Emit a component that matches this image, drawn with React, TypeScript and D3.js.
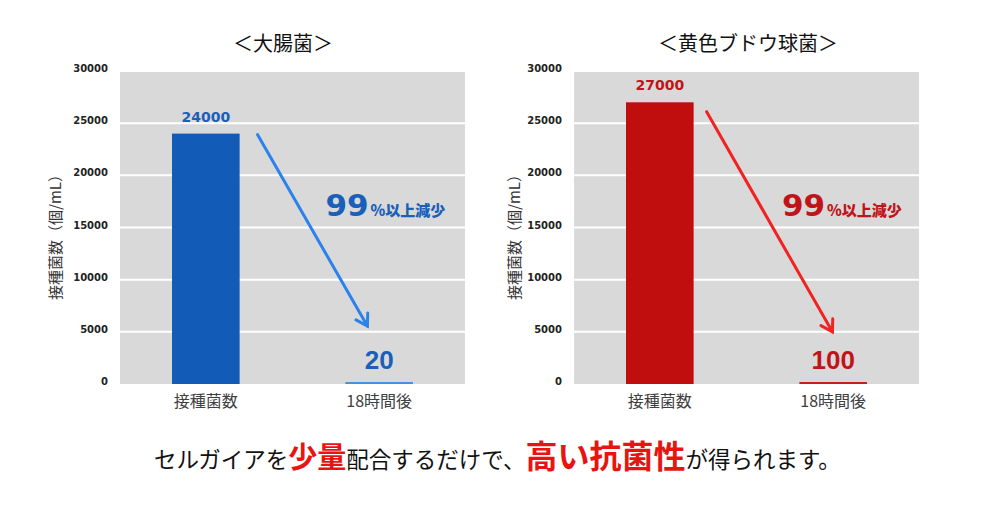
import React from "react";
import * as d3 from "d3";

const categories = ["接種菌数", "18時間後"];
const ecoliValues = [24000, 20];
const staphValues = [27000, 100];
const yTicks = [0, 5000, 10000, 15000, 20000, 25000, 30000];
const chartTitles = ["＜大腸菌＞", "＜黄色ブドウ球菌＞"];
const yAxisTitle = "接種菌数（個/mL）";
const reductionBig = "99";
const reductionSmall = "%以上減少";
// arrow annotation values (start / end on y axis)
const arrowStartValues = [23900, 26100];
const arrowEndValues = [5550, 5000];
const reductionLabelValue = 16100;

const captionParts = [
  { text: "セルガイアを", kind: "n" },
  { text: "少量", kind: "m" },
  { text: "配合するだけで、", kind: "n" },
  { text: "高い抗菌性", kind: "l" },
  { text: "が得られます。", kind: "n" },
];

const JP = "'Noto Sans CJK JP', sans-serif";
const NUM = "'DejaVu Sans', Verdana, sans-serif";
const NUM2 = "'Liberation Sans', Arial, sans-serif";

const PLOT_W = 345;
const PLOT_TOP = 71;
const PLOT_BOTTOM = 384;

type ChartProps = {
  left: number;
  values: number[];
  title: string;
  titleX: number;
  yTitleX: number;
  barColors: string[];
  labelColor: string;
  arrowColor: string;
  arrowStart: number;
  arrowEnd: number;
  arrowStartDx: number;
  arrowEndDx: number;
  labelDx: number;
};

function Chart(p: ChartProps) {
  const x = d3
    .scaleBand<string>()
    .domain(categories)
    .range([p.left, p.left + PLOT_W])
    .paddingInner(0.61)
    .paddingOuter(0.3);
  const y = d3.scaleLinear().domain([0, 30000]).range([PLOT_BOTTOM, PLOT_TOP]);
  const bw = x.bandwidth();

  const x0 = x(categories[0])! + bw + p.arrowStartDx;
  const y0 = y(p.arrowStart);
  const x1 = x(categories[1])! + p.arrowEndDx;
  const y1 = y(p.arrowEnd);
  const ang = Math.atan2(y1 - y0, x1 - x0);
  const hl = 13;
  const spread = 0.55;
  const w1 = [x1 - hl * Math.cos(ang - spread), y1 - hl * Math.sin(ang - spread)];
  const w2 = [x1 - hl * Math.cos(ang + spread), y1 - hl * Math.sin(ang + spread)];

  return (
    <g>
      <text
        x={p.titleX}
        y={42}
        textAnchor="middle"
        dominantBaseline="central"
        fontFamily={JP}
        fontSize={20}
        fill="#111"
      >
        {p.title}
      </text>
      <rect x={p.left} y={PLOT_TOP} width={PLOT_W} height={PLOT_BOTTOM - PLOT_TOP} fill="#d9d9d9" />
      {yTicks.map((t) => (
        <g key={t}>
          {t > 0 && (
            <line
              x1={p.left}
              x2={p.left + PLOT_W}
              y1={y(t)}
              y2={y(t)}
              stroke="#ffffff"
              strokeWidth={2}
            />
          )}
          <text
            x={p.left - 12}
            y={y(t) - 2.5}
            textAnchor="end"
            dominantBaseline="central"
            fontFamily={NUM}
            fontWeight="bold"
            fontSize={10}
            fill="#222"
          >
            {t}
          </text>
        </g>
      ))}
      <text
        transform={`translate(${p.yTitleX},${(PLOT_TOP + PLOT_BOTTOM) / 2 + 6}) rotate(-90)`}
        textAnchor="middle"
        dominantBaseline="central"
        fontFamily={JP}
        fontSize={15}
        fill="#333"
      >
        {yAxisTitle}
      </text>
      {categories.map((c, i) => {
        const v = p.values[i];
        const top = Math.min(y(v), PLOT_BOTTOM - 2);
        const cx = x(c)! + bw / 2;
        const big = i === 1;
        return (
          <g key={c}>
            <rect x={x(c)} y={top} width={bw} height={PLOT_BOTTOM - top} fill={p.barColors[i]} />
            <text
              x={cx}
              y={top - (big ? 22.5 : 17)}
              textAnchor="middle"
              dominantBaseline="central"
              fontFamily={big ? NUM2 : NUM}
              fontWeight="bold"
              fontSize={big ? 26 : 14}
              fill={p.labelColor}
            >
              {v}
            </text>
            <text
              x={cx}
              y={400}
              textAnchor="middle"
              dominantBaseline="central"
              fontFamily={JP}
              fontSize={16}
              fill="#404040"
            >
              {c}
            </text>
          </g>
        );
      })}
      <line x1={x0} y1={y0} x2={x1} y2={y1} stroke={p.arrowColor} strokeWidth={3} strokeLinecap="round" />
      <polyline
        points={`${w1[0]},${w1[1]} ${x1},${y1} ${w2[0]},${w2[1]}`}
        fill="none"
        stroke={p.arrowColor}
        strokeWidth={3}
        strokeLinecap="round"
        strokeLinejoin="miter"
      />
      <text
        x={x(categories[1])! + p.labelDx}
        y={y(reductionLabelValue)}
        fontWeight="bold"
        fill={p.labelColor}
      >
        <tspan fontFamily={NUM} fontSize={31}>
          {reductionBig}
        </tspan>
        <tspan fontFamily={JP} fontSize={15} fontWeight={900} dx={2}>
          {reductionSmall}
        </tspan>
      </text>
    </g>
  );
}

export default function App() {
  return (
    <svg
      width={1000}
      height={509}
      viewBox="0 0 1000 509"
      style={{ position: "absolute", left: 0, top: 0, background: "#fff" }}
    >
      <rect width={1000} height={509} fill="#fff" />
      <Chart
        left={120}
        values={ecoliValues}
        title={chartTitles[0]}
        titleX={283}
        yTitleX={54}
        barColors={["#125cb8", "#4a8fe0"]}
        labelColor="#1a5fba"
        arrowColor="#2b82ea"
        arrowStart={arrowStartValues[0]}
        arrowEnd={arrowEndValues[0]}
        arrowStartDx={18}
        arrowEndDx={22}
        labelDx={-20}
      />
      <Chart
        left={574}
        values={staphValues}
        title={chartTitles[1]}
        titleX={748}
        yTitleX={513}
        barColors={["#c00d0d", "#c81d1d"]}
        labelColor="#c0141a"
        arrowColor="#f02222"
        arrowStart={arrowStartValues[1]}
        arrowEnd={arrowEndValues[1]}
        arrowStartDx={13}
        arrowEndDx={33}
        labelDx={-17.5}
      />
      <text x={154} y={468} fontFamily={JP}>
        {captionParts.map((c, i) => (
          <tspan
            key={i}
            fontSize={c.kind === "n" ? 22.5 : c.kind === "m" ? 29 : 32}
            fontWeight={c.kind === "n" ? "normal" : "bold"}
            fill={c.kind === "n" ? "#111" : "#e8140f"}
          >
            {c.text}
          </tspan>
        ))}
      </text>
    </svg>
  );
}
